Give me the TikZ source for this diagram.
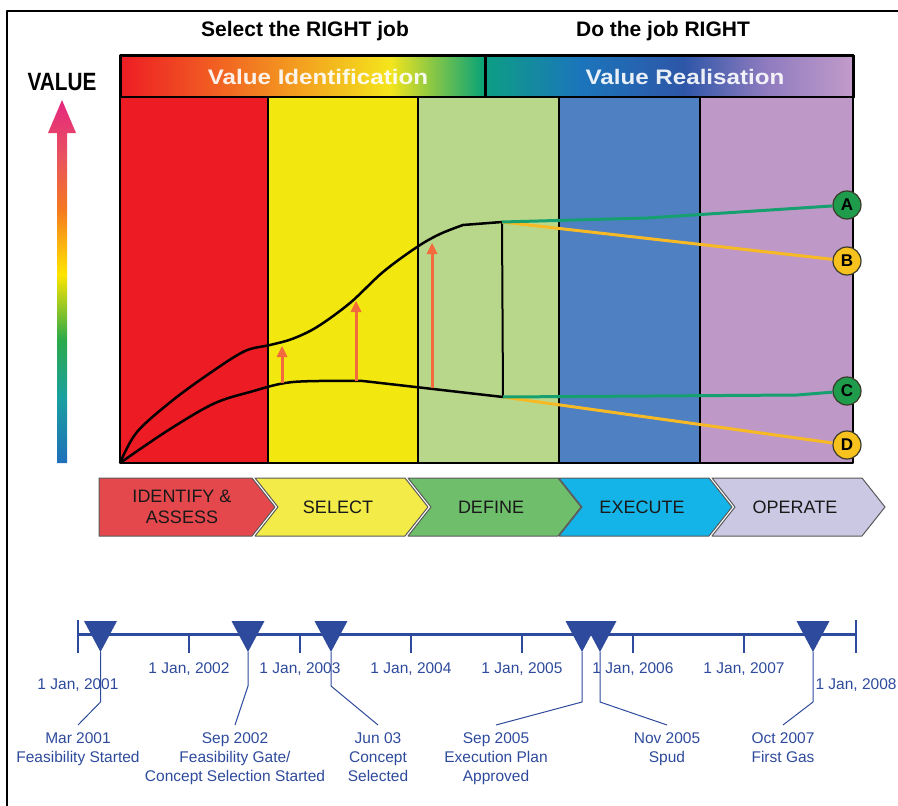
\documentclass[tikz,border=0pt]{standalone}
\usepackage{fontspec}
\setmainfont{Liberation Sans}
\usetikzlibrary{arrows.meta}

\definecolor{colred}{HTML}{ED1C24}
\definecolor{colyellow}{HTML}{F2E70F}
\definecolor{colgreen}{HTML}{B8D78B}
\definecolor{colblue}{HTML}{4E80C2}
\definecolor{colpurple}{HTML}{BE99C7}
\definecolor{bandred}{HTML}{ED1C24}
\definecolor{bandorange}{HTML}{F26A22}
\definecolor{bandyellow}{HTML}{F4E51C}
\definecolor{bandgreen}{HTML}{04A279}
\definecolor{realteal}{HTML}{0D9E84}
\definecolor{realblue}{HTML}{1B75BB}
\definecolor{realdeep}{HTML}{2E56A8}
\definecolor{realviolet}{HTML}{8E7BBF}
\definecolor{reallav}{HTML}{C29BCA}
\definecolor{valblue}{HTML}{1F6FBA}
\definecolor{valteal}{HTML}{1AA0A0}
\definecolor{valgreen}{HTML}{2BAA4A}
\definecolor{valyellow}{HTML}{FFE500}
\definecolor{valorange}{HTML}{F47920}
\definecolor{valred}{HTML}{E9545E}
\definecolor{valpink}{HTML}{E5267F}
\definecolor{risecol}{HTML}{F36A3D}
\definecolor{lgreen}{HTML}{16A06F}
\definecolor{lgold}{HTML}{F8BA24}
\definecolor{endgreen}{HTML}{1E9C4B}
\definecolor{endgold}{HTML}{F7C11E}
\definecolor{enddark}{HTML}{3A3A2A}
\definecolor{idcol}{HTML}{E5484C}
\definecolor{selcol}{HTML}{F3EB48}
\definecolor{defcol}{HTML}{6EBE6C}
\definecolor{execol}{HTML}{15B4E8}
\definecolor{opcol}{HTML}{CAC8E3}
\definecolor{stagedge}{HTML}{5A5A5A}
\definecolor{tlblue}{HTML}{2E4A9C}

\pgfdeclarehorizontalshading{identgrad}{100bp}{color(0bp)=(bandred); color(25bp)=(bandred);
  color(40bp)=(bandorange); color(62bp)=(bandyellow); color(75bp)=(bandgreen); color(100bp)=(bandgreen)}
\pgfdeclarehorizontalshading{realgrad}{100bp}{color(0bp)=(realteal); color(25bp)=(realteal);
  color(38bp)=(realblue); color(52bp)=(realdeep); color(63bp)=(realviolet); color(75bp)=(reallav); color(100bp)=(reallav)}
\pgfdeclareverticalshading{valuegrad}{100bp}{color(0bp)=(valblue); color(25bp)=(valblue);
  color(34bp)=(valteal); color(42bp)=(valgreen); color(51bp)=(valyellow); color(60bp)=(valorange);
  color(67bp)=(valred); color(75bp)=(valpink); color(100bp)=(valpink)}

\begin{document}
\begin{tikzpicture}[x=1pt,y=-1pt,line join=round,
  col box/.style={draw=black,line width=2.5pt},
  band box/.style={draw=black,line width=3pt},
  head text/.style={font=\fontsize{21}{24}\selectfont\bfseries},
  band text/.style={text=white,text opacity=0.9,font=\fontsize{21}{26}\selectfont\bfseries},
  curve/.style={draw=black,line width=2.5pt},
  rise/.style={draw=risecol,line width=3pt},
  rise head/.style={fill=risecol},
  green line/.style={draw=lgreen,line width=3pt},
  gold line/.style={draw=lgold,line width=3pt},
  green end/.style={circle,fill=endgreen,draw=enddark,line width=1.2pt,minimum size=28pt,
    inner sep=0pt,font=\fontsize{17}{17}\selectfont\bfseries},
  gold end/.style={green end,fill=endgold},
  stage/.style={draw=stagedge,line width=1pt},
  stage text/.style={align=center,text=black!90,font=\fontsize{18}{21}\selectfont},
  tl/.style={draw=tlblue},
  tl text/.style={text=tlblue,font=\fontsize{15.5}{19}\selectfont,align=center,inner sep=0pt}]
  \useasboundingbox (0,0) rectangle (898,806);
  \draw[line width=2pt] (7,806) -- (7,11) -- (898,11);

  \node[head text] (selhead) at (305,31) {Select the RIGHT job};
  \node[head text] (dohead) at (663,31) {Do the job RIGHT};
  \node[font=\fontsize{25}{28}\selectfont\bfseries] (valuelbl) at (62,82) {\scalebox{0.83}[1]{VALUE}};
  \shade[shading=valuegrad] (57,463) -- (57,133) -- (48,133) -- (62,100) -- (76,133)
    -- (67,133) -- (67,463) -- cycle;

  \shade[shading=identgrad] (120,55) rectangle (485,97);
  \shade[shading=realgrad] (485,55) rectangle (853,97);
  \draw[band box] (120,55) rectangle (485,97);
  \draw[band box] (485,55) rectangle (853,97);
  \node[band text] (identlbl) at (318,77) {\scalebox{1.15}[1]{Value Identification}};
  \node[band text] (reallbl) at (685,77) {\scalebox{1.15}[1]{Value Realisation}};

  \foreach \xa/\xb/\c in {120/268/colred, 268/418/colyellow, 418/559/colgreen,
    559/700/colblue, 700/853/colpurple}
    \draw[col box,fill=\c] (\xa,97) rectangle (\xb,463);

  \coordinate (start) at (120,463);
  \coordinate (peak) at (502,222);
  \coordinate (low) at (503,397);
  \draw[curve] plot[smooth,tension=0.55] coordinates {(start) (137,432) (173,400) (213,371)
    (245,351) (270,345) (292,339) (317,327) (350,303) (383,272) (417,247) (440,234) (463,225)} -- (peak);
  \draw[curve] plot[smooth,tension=0.55] coordinates {(start) (167,431) (213,404) (250,392)
    (293,382) (363,381)} -- (low);
  \draw[curve,line width=2pt] (peak) -- (low);

  % rising arrows between the two curves
  \foreach \rx/\ry/\rt [count=\i] in {282/383/346, 356/381/301, 432/388/243} {
    \coordinate (rise\i) at (\rx,\ry);
    \coordinate (top\i) at (\rx,\rt);
    \draw[rise] (rise\i) -- (\rx,\rt+8);
    \fill[rise head] (top\i) -- (\rx-5.5,\rt+11) -- (\rx+5.5,\rt+11) -- cycle;
  }

  \node[green end] (A) at (847,205) {A};
  \node[gold end]  (B) at (847,261) {B};
  \node[green end] (C) at (847,391) {C};
  \node[gold end]  (D) at (847,445) {D};
  \coordinate (bendA) at (647,218);
  \coordinate (bendC) at (797,395);
  \draw[gold line] (peak) -- (B);
  \draw[green line] (peak) -- (bendA) -- (A);
  \draw[gold line] (low) -- (D);
  \draw[green line] (low) -- (bendC) -- (C);

  \foreach \xl/\c/\txt [count=\i] in {99/idcol/{IDENTIFY \&\\ASSESS}, 255/selcol/SELECT,
    408/defcol/DEFINE, 559/execol/EXECUTE, 712/opcol/OPERATE} {
    \ifnum\i=1
      \draw[stage,fill=\c] (\xl,478) -- (\xl+153,478) -- (\xl+176,507) -- (\xl+153,536) -- (\xl,536) -- cycle;
    \else
      \draw[stage,fill=\c] (\xl,478) -- (\xl+150,478) -- (\xl+173,507) -- (\xl+150,536) -- (\xl,536)
        -- (\xl+23,507) -- cycle;
    \fi
    \node[stage text] (stage\i) at (\xl+83,507) {\txt};
  }

  \coordinate (tlstart) at (78,634);
  \coordinate (tlend) at (856,634);
  \draw[tl,line width=3pt] (tlstart) -- (tlend);
  \draw[tl,line width=1.5pt] (78,620) -- (78,653) (856,620) -- (856,653);
  \foreach \k in {1,...,6}
    \draw[tl,line width=1.5pt] (78+111*\k,634) -- (78+111*\k,653);
  \node[tl text,anchor=base] (y2001) at (78,689) {1 Jan, 2001};
  \foreach \k [evaluate=\k as \yr using int(2001+\k)] in {1,...,6}
    \node[tl text,anchor=base] (y\yr) at (78+111*\k,673) {1 Jan, \yr};
  \node[tl text,anchor=base] (y2008) at (856,689) {1 Jan, 2008};

  \foreach \mx/\by/\ex/\txt [count=\i] in {100.5/702/78/{Mar 2001\\Feasibility Started},
    248/686/235/{Sep 2002\\Feasibility Gate/\\Concept Selection Started},
    331/686/378/{Jun 03\\Concept\\Selected},
    582/702/496/{Sep 2005\\Execution Plan\\Approved},
    600/702/667/{Nov 2005\\Spud},
    813/702/783/{Oct 2007\\First Gas}} {
    \fill[tlblue] (\mx-16.5,621) -- (\mx+16.5,621) -- (\mx,652) -- cycle;
    \coordinate (tip\i) at (\mx,652);
    \coordinate (bend\i) at (\mx,\by);
    \coordinate (foot\i) at (\ex,725);
    \draw[tl,line width=1pt] (tip\i) -- (bend\i) -- (foot\i);
    \node[tl text,anchor=north] (mile\i) at (\ex,732) {\txt};
  }
\end{tikzpicture}
\end{document}
